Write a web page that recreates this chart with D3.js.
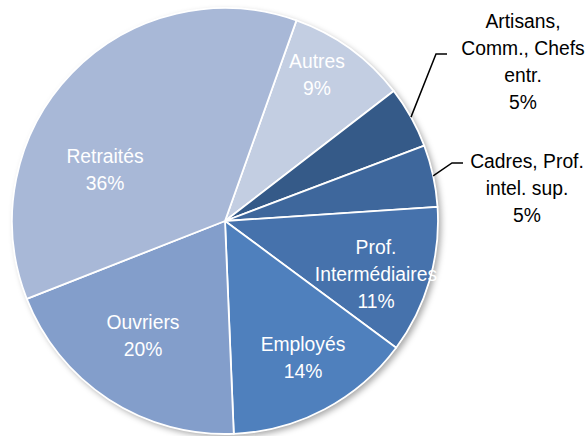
<!DOCTYPE html>
<html>
<head>
<meta charset="utf-8">
<script src="https://cdn.jsdelivr.net/npm/d3@7"></script>
<style>
  body { margin: 0; background: #fff; }
  svg { display: block; }
  text { font-family: "Liberation Sans", Arial, sans-serif; font-size: 21px; }
</style>
</head>
<body>
<div id="chart"></div>
<script>
// categories, clockwise starting from "Autres"
var categories = ["Autres", "Artisans,\nComm., Chefs\nentr.", "Cadres, Prof.\nintel. sup.", "Prof.\nIntermédiaires", "Employés", "Ouvriers", "Retraités"];
var values = [9.1, 4.7, 4.7, 11.2, 14.2, 19.7, 36.4];
var colors = ["#c3cee2", "#355a88", "#3e679c", "#4672ac", "#4f80bd", "#839ecb", "#a8b8d7"];

// label layout: text center x and first baseline, relative to pie center
var labelPos = [
  {x: 92, y: -153, inside: true},
  {x: 298, y: -193, inside: false, elbow: [211, -167]},
  {x: 302, y: -53, inside: false, elbow: [227, -58]},
  {x: 151, y: 33, inside: true},
  {x: 78, y: 130, inside: true},
  {x: -82, y: 108, inside: true},
  {x: -120, y: -58, inside: true}
];

var width = 587, height = 436;
var cx = 225, cy = 221, radius = 213;
var lineH = 27;
var squeeze = 0.92; // the original font is a bit narrow

var svg = d3.select("#chart").append("svg")
    .attr("width", width)
    .attr("height", height);

var defs = svg.append("defs");
var f = defs.append("filter").attr("id", "shadow")
    .attr("x", "-10%").attr("y", "-10%").attr("width", "125%").attr("height", "125%");
f.append("feDropShadow")
    .attr("dx", 3).attr("dy", 3).attr("stdDeviation", 3)
    .attr("flood-color", "#000").attr("flood-opacity", 0.35);

var startAngle = 19.6 * Math.PI / 180;
var pie = d3.pie().sort(null)
    .startAngle(startAngle)
    .endAngle(startAngle + 2 * Math.PI);
var arcs = pie(values);
var arc = d3.arc().innerRadius(0).outerRadius(radius);

var g = svg.append("g").attr("transform", "translate(" + cx + "," + cy + ")");

g.append("circle")
    .attr("r", radius)
    .attr("fill", "#fff")
    .attr("filter", "url(#shadow)");

g.selectAll("path.slice").data(arcs).enter().append("path")
    .attr("class", "slice")
    .attr("d", arc)
    .attr("fill", function (d, i) { return colors[i]; })
    .attr("stroke", "#fff")
    .attr("stroke-width", 1.8)
    .attr("stroke-linejoin", "round");

// leader lines for outside labels
arcs.forEach(function (d, i) {
    var p = labelPos[i];
    if (p.inside) return;
    var a = (d.startAngle + d.endAngle) / 2;
    var ex = Math.sin(a) * radius, ey = -Math.cos(a) * radius;
    g.append("polyline")
        .attr("points", [[ex, ey], p.elbow, [p.elbow[0] + 11, p.elbow[1]]].map(function (q) { return q.join(","); }).join(" "))
        .attr("fill", "none")
        .attr("stroke", "#000")
        .attr("stroke-width", 1.5);
});

// labels
arcs.forEach(function (d, i) {
    var p = labelPos[i];
    var lines = categories[i].split("\n").concat([Math.round(values[i]) + "%"]);
    var t = g.append("text")
        .attr("transform", "translate(" + p.x + "," + p.y + ") scale(" + squeeze + ",1)")
        .attr("text-anchor", "middle")
        .attr("fill", p.inside ? "#fff" : "#000");
    lines.forEach(function (s, k) {
        t.append("tspan")
            .attr("x", 0)
            .attr("y", k * lineH)
            .text(s);
    });
});
</script>
</body>
</html>
